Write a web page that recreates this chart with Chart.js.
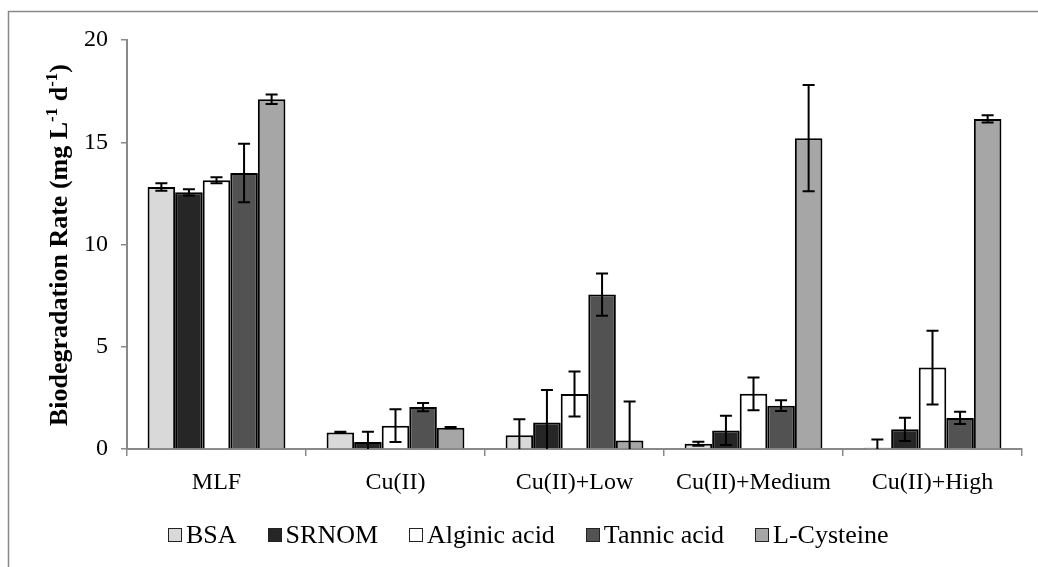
<!DOCTYPE html>
<html>
<head>
<meta charset="utf-8">
<title>Biodegradation Rate</title>
<script src="https://cdn.jsdelivr.net/npm/chart.js@4.4.1/dist/chart.umd.min.js"></script>
<style>
    html, body { margin: 0; padding: 0; background: #fff; }
    #wrap { position: relative; width: 1038px; height: 567px; overflow: hidden; }
    #rateChart { position: absolute; left: 0; top: 0; }
    #legend {
        position: absolute; left: 168px; top: 520px;
        display: flex; gap: 31px;
        font-family: "Liberation Serif", "Times New Roman", serif;
        font-size: 26px; line-height: 30px; color: #000;
    }
    #legend .item { display: flex; align-items: center; }
    #legend .box {
        width: 12px; height: 12px; border: 1.5px solid #222;
        margin-right: 4px;
    }
</style>
</head>
<body>
<div id="wrap">
    <canvas id="rateChart" width="1038" height="567"></canvas>
    <div id="legend"></div>
</div>
<script>
// Treatments on the x axis
const categories = ['MLF', 'Cu(II)', 'Cu(II)+Low', 'Cu(II)+Medium', 'Cu(II)+High'];

// Mean rates (mg L-1 d-1)
const bsa       = [12.81, 0.81, 0.67, 0.26, 0.06];
const srnom     = [12.55, 0.34, 1.29, 0.91, 0.96];
const alginic   = [13.14, 1.14, 2.69, 2.70, 3.98];
const tannic    = [13.50, 2.05, 7.55, 2.12, 1.52];
const cysteine  = [17.10, 1.04, 0.42, 15.20, 16.14];

// Standard deviations
const bsaErr      = [0.18, 0.03, 0.78, 0.10, 0.40];
const srnomErr    = [0.15, 0.50, 1.60, 0.72, 0.57];
const alginicErr  = [0.15, 0.80, 1.10, 0.80, 1.80];
const tannicErr   = [1.43, 0.20, 1.03, 0.26, 0.30];
const cysteineErr = [0.23, 0.03, 1.90, 2.60, 0.18];

const yTicks = [0, 5, 10, 15, 20];

const series = [
    { label: 'BSA',          data: bsa,      err: bsaErr,      color: '#d9d9d9' },
    { label: 'SRNOM',        data: srnom,    err: srnomErr,    color: '#262626' },
    { label: 'Alginic acid', data: alginic,  err: alginicErr,  color: '#ffffff' },
    { label: 'Tannic acid',  data: tannic,   err: tannicErr,   color: '#525252' },
    { label: 'L-Cysteine',   data: cysteine, err: cysteineErr, color: '#a6a6a6' }
];

const SERIF = '"Liberation Serif", "Times New Roman", serif';
const AXIS_GREY = '#898989';

// white page + the frame lines round the figure
const framePlugin = {
    id: 'frame',
    beforeDraw(chart) {
        const c = chart.ctx;
        c.save();
        c.fillStyle = '#fff';
        c.fillRect(0, 0, chart.width, chart.height);
        c.strokeStyle = AXIS_GREY;
        c.lineWidth = 1.5;
        c.beginPath();
        c.moveTo(8.5, chart.height);
        c.lineTo(8.5, 11.5);
        c.lineTo(chart.width, 11.5);
        c.stroke();
        c.restore();
    }
};

// error bars, clipped to the plot area
const errorBarPlugin = {
    id: 'errorBars',
    afterDatasetsDraw(chart) {
        const c = chart.ctx;
        const y = chart.scales.y;
        const area = chart.chartArea;
        c.save();
        c.beginPath();
        c.rect(area.left, area.top - 20, area.right - area.left, area.bottom - area.top + 20);
        c.clip();
        c.strokeStyle = '#000';
        c.lineWidth = 2;
        chart.data.datasets.forEach((ds, di) => {
            const meta = chart.getDatasetMeta(di);
            meta.data.forEach((bar, i) => {
                const v = ds.data[i], e = ds.errors[i];
                const top = y.getPixelForValue(v + e);
                const bot = y.getPixelForValue(v - e);
                const x = bar.x, half = 6;
                c.beginPath();
                c.moveTo(x, top); c.lineTo(x, bot);
                c.moveTo(x - half, top); c.lineTo(x + half, top);
                c.moveTo(x - half, bot); c.lineTo(x + half, bot);
                c.stroke();
            });
        });
        c.restore();
    }
};

// rotated y title with superscript exponents
const yTitlePlugin = {
    id: 'yTitle',
    afterDraw(chart) {
        const c = chart.ctx;
        const parts = [
            ['Biodegradation Rate (mg L', false],
            ['-1', true],
            [' d', false],
            ['-1', true],
            [')', false]
        ];
        const big = 'bold 26px ' + SERIF;
        const small = 'bold 17px ' + SERIF;
        c.save();
        let total = 0;
        parts.forEach(p => { c.font = p[1] ? small : big; total += c.measureText(p[0]).width; });
        c.translate(60, 245);
        c.rotate(-Math.PI / 2);
        c.fillStyle = '#000';
        c.textBaseline = 'middle';
        let x = -total / 2;
        parts.forEach(p => {
            c.font = p[1] ? small : big;
            c.fillText(p[0], x, p[1] ? -7 : 0);
            x += c.measureText(p[0]).width;
        });
        c.restore();
    }
};

const ctx = document.getElementById('rateChart').getContext('2d');
new Chart(ctx, {
    type: 'bar',
    data: {
        labels: categories,
        datasets: series.map(s => ({
            label: s.label,
            data: s.data,
            errors: s.err,
            backgroundColor: s.color,
            borderColor: '#000',
            borderWidth: 2,
            categoryPercentage: 0.77,
            barPercentage: 1.0
        }))
    },
    options: {
        responsive: false,
        devicePixelRatio: 1,
        animation: false,
        layout: { padding: { top: 40, right: 16, left: 0, bottom: 0 } },
        plugins: {
            legend: { display: false }, // legend is built in HTML below
            tooltip: { enabled: false }
        },
        scales: {
            x: {
                grid: {
                    offset: true, drawOnChartArea: false, drawTicks: true,
                    tickLength: 7, color: AXIS_GREY, lineWidth: 1.5
                },
                border: { color: AXIS_GREY, width: 2 },
                ticks: {
                    color: '#000', padding: 12,
                    font: { family: SERIF, size: 24 }
                },
                afterFit(scale) { scale.height = 118; }
            },
            y: {
                min: 0,
                max: 20,
                afterBuildTicks(scale) { scale.ticks = yTicks.map(v => ({ value: v })); },
                grid: {
                    drawOnChartArea: false, drawTicks: true,
                    tickLength: 6, color: AXIS_GREY, lineWidth: 1.5
                },
                border: { color: AXIS_GREY, width: 2 },
                ticks: {
                    color: '#000', padding: 13,
                    font: { family: SERIF, size: 24 }
                },
                afterFit(scale) { scale.width = 127; }
            }
        }
    },
    plugins: [framePlugin, errorBarPlugin, yTitlePlugin]
});

// legend
const legend = document.getElementById('legend');
series.forEach(s => {
    const item = document.createElement('div');
    item.className = 'item';
    const box = document.createElement('span');
    box.className = 'box';
    box.style.background = s.color;
    const txt = document.createElement('span');
    txt.textContent = s.label;
    item.appendChild(box);
    item.appendChild(txt);
    legend.appendChild(item);
});
</script>
</body>
</html>
